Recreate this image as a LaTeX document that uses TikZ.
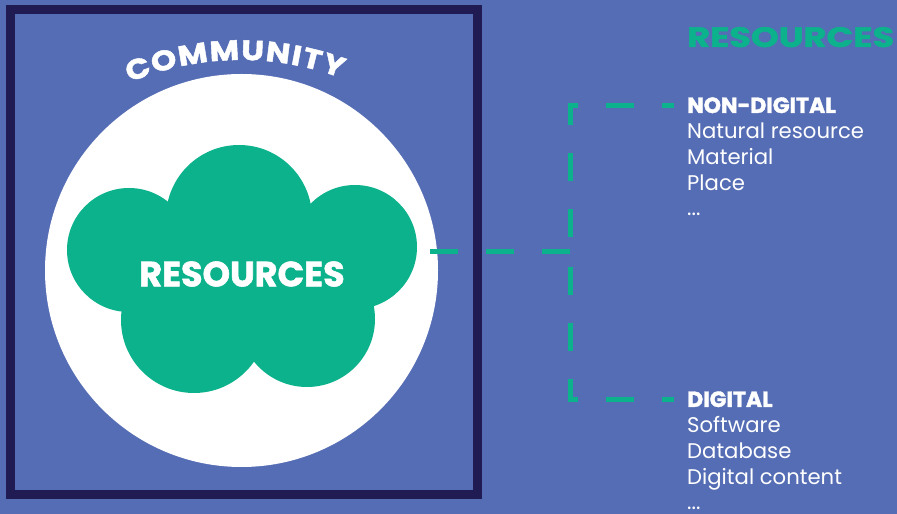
\documentclass[tikz,border=0pt]{standalone}
\usepackage{fontspec}
\setmainfont{Poppins}
\newfontface\heavyface{Poppins Bold}[FakeBold=1.6]
\newfontface\wideface{Poppins Bold}[FakeBold=1.6, FakeStretch=1.15]
\usetikzlibrary{positioning}
\usetikzlibrary{decorations.text}
\definecolor{bgblue}{RGB}{85,109,180}
\definecolor{framenavy}{RGB}{32,27,82}
\definecolor{leafgreen}{RGB}{12,178,140}

\begin{document}
\begin{tikzpicture}[
		x=1pt, y=1pt,
		blob/.style = {
			fill=leafgreen
		},
		head/.style = {
			anchor=base west, inner sep=0pt,
			text=white, font=\heavyface\fontsize{22}{22}\selectfont
		},
		item/.style = {
			anchor=base west, inner sep=0pt,
			text=white, font=\fontsize{21.2}{21.2}\selectfont
		},
		link/.style = {
			draw=leafgreen, line width=5pt,
			dash pattern=on 28pt off 28pt, dash phase=41pt
		}
	]
	\fill[bgblue] (0,0) rectangle (897,514);
	\useasboundingbox (0,0) rectangle (897,514);
	\draw[framenavy, line width=9pt] (10.5,19.5) rectangle (477.5,504.5);
	\fill[white] (241.5,243.5) circle[radius=196.5];
	\fill[blob] (129,264) circle[radius=62];
	\fill[blob] (239,296) circle[radius=73];
	\fill[blob] (355,267) circle[radius=62];
	\fill[blob] (194,194) circle[radius=73];
	\fill[blob] (307,195) circle[radius=68];
	\fill[blob] (129,264) -- (239,296) -- (355,267) -- (307,195) -- (194,194) -- cycle;
	\node[text=white, font=\heavyface\fontsize{35}{35}\selectfont] (cloud) at (242,240) {RESOURCES};
	\path[decorate, decoration={text along path, text color=white,
		text={|\wideface\fontsize{28}{28}\selectfont|COMMUNITY}, text align={fit to path}}]
		(241,167) ++(112.8:287) arc[start angle=112.8, end angle=69.6, radius=287];

	\node[anchor=base west, inner sep=0pt, text=leafgreen, font=\heavyface\fontsize{28}{28}\selectfont]
		(title) at (687,467) {\scalebox{1.26}[1]{RESOURCES}};
	\node[head] (nondig) at (687,401) {NON-DIGITAL};
	\node[item] (natural) at ([yshift=-25.7pt]nondig.base west) {Natural resource};
	\node[item] (material) at ([yshift=-25.7pt]natural.base west) {Material};
	\node[item] (place) at ([yshift=-25.7pt]material.base west) {Place};
	\node[item] (moreA) at ([yshift=-25.7pt]place.base west) {...};
	\node[head] (dig) at (687,107) {DIGITAL};
	\node[item] (software) at ([yshift=-25.7pt]dig.base west) {Software};
	\node[item] (database) at ([yshift=-25.7pt]software.base west) {Database};
	\node[item] (content) at ([yshift=-25.7pt]database.base west) {Digital content};
	\node[item] (moreB) at ([yshift=-25.7pt]content.base west) {...};

	\coordinate (tap) at (428,262);
	\coordinate (hub) at (570,262);
	\draw[link, dash phase=0pt] (hub) -- (tap);
	\draw[link, shorten >=13pt] (hub) |- (nondig);
	\draw[link, shorten >=13pt] (hub) |- (dig);
\end{tikzpicture}
\end{document}
